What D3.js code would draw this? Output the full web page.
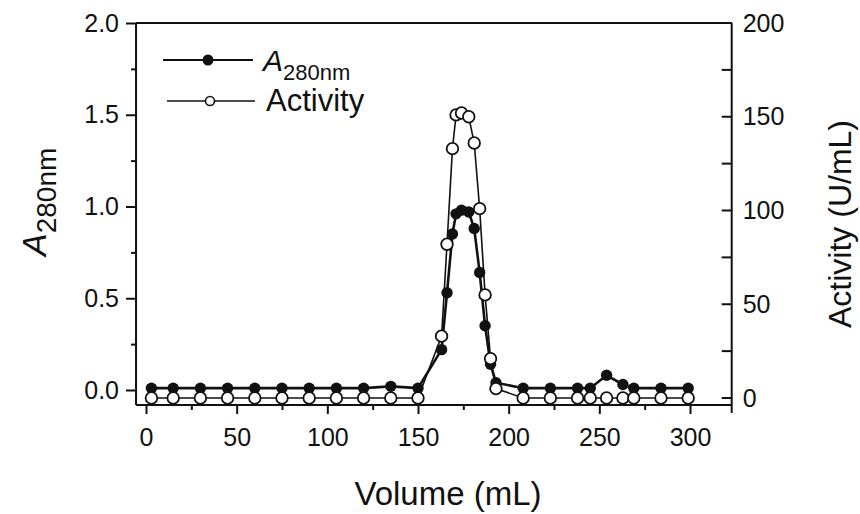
<!DOCTYPE html>
<html>
<head>
<meta charset="utf-8">
<script src="https://cdn.jsdelivr.net/npm/d3@7/dist/d3.min.js"></script>
<style>
  html, body { margin: 0; padding: 0; background: #fff; }
  svg { display: block; }
  text { font-family: "Liberation Sans", Arial, sans-serif; fill: #111; }
</style>
</head>
<body>
<svg id="chart" width="860" height="514"></svg>
<script>
// Elution volume of each collected fraction (mL)
const volume = [3, 15, 30, 45, 60, 75, 90, 105, 120, 135, 150,
                163, 166, 169, 171, 174, 178, 181, 184, 187, 190, 193,
                208, 223, 238, 245, 254, 263, 269, 284, 299];
// Absorbance at 280 nm
const a280 = [0.01, 0.01, 0.01, 0.01, 0.01, 0.01, 0.01, 0.01, 0.01, 0.02, 0.01,
              0.22, 0.53, 0.85, 0.96, 0.98, 0.97, 0.88, 0.64, 0.35, 0.14, 0.04,
              0.01, 0.01, 0.01, 0.01, 0.08, 0.03, 0.01, 0.01, 0.01];
// Enzyme activity (U/mL)
const activity = [0, 0, 0, 0, 0, 0, 0, 0, 0, 0, 0,
                  33, 82, 133, 151, 152, 150, 136, 101, 55, 21, 5,
                  0, 0, 0, 0, 0, 0, 0, 0, 0];

const xTicks = [0, 50, 100, 150, 200, 250, 300];
const leftTicks = [0.0, 0.5, 1.0, 1.5, 2.0];
const rightTicks = [0, 50, 100, 150, 200];

const svg = d3.select("#chart");
const ink = "#111";
const fontFamily = '"Liberation Sans", Arial, sans-serif';

const x = d3.scaleLinear().domain([0, 300]).range([146, 690]);
const yL = d3.scaleLinear().domain([0, 2]).range([390, 23]);
const yR = d3.scaleLinear().domain([0, 200]).range([398, 23]);

const plotLeft = x(-5.5), plotRight = x(323), plotTop = 23, plotBottom = 405;

// Frame
const frame = svg.append("g").attr("stroke", ink).attr("stroke-width", 2).attr("fill", "none");
frame.append("line").attr("x1", plotLeft).attr("x2", plotRight).attr("y1", plotTop).attr("y2", plotTop);
frame.append("line").attr("x1", plotLeft).attr("x2", plotRight).attr("y1", plotBottom).attr("y2", plotBottom);
frame.append("line").attr("x1", plotLeft).attr("x2", plotLeft).attr("y1", plotTop).attr("y2", plotBottom);
frame.append("line").attr("x1", plotRight).attr("x2", plotRight).attr("y1", plotTop).attr("y2", plotBottom + 8);

// Bottom axis
const xAxis = d3.axisBottom(x).tickValues(xTicks).tickSize(9).tickPadding(14).tickFormat(d3.format("d"));
const gx = svg.append("g").attr("transform", `translate(0,${plotBottom})`).call(xAxis);
gx.select(".domain").remove();
gx.selectAll(".tick line").attr("stroke", ink).attr("stroke-width", 2);
gx.selectAll(".tick text").attr("font-size", 25).attr("fill", ink).style("font-family", fontFamily);
const xMinor = d3.axisBottom(x).tickValues(d3.range(25, 300, 50)).tickSize(5).tickFormat("");
const gxm = svg.append("g").attr("transform", `translate(0,${plotBottom})`).call(xMinor);
gxm.select(".domain").remove();
gxm.selectAll(".tick line").attr("stroke", ink).attr("stroke-width", 2);

// Left axis
const lAxis = d3.axisLeft(yL).tickValues(leftTicks).tickSize(10).tickPadding(7).tickFormat(d3.format(".1f"));
const gl = svg.append("g").attr("transform", `translate(${plotLeft},0)`).call(lAxis);
gl.select(".domain").remove();
gl.selectAll(".tick line").attr("stroke", ink).attr("stroke-width", 2);
gl.selectAll(".tick text").attr("font-size", 25).attr("fill", ink).style("font-family", fontFamily);
const lMinor = d3.axisLeft(yL).tickValues([0.25, 0.75, 1.25, 1.75]).tickSize(5).tickFormat("");
const glm = svg.append("g").attr("transform", `translate(${plotLeft},0)`).call(lMinor);
glm.select(".domain").remove();
glm.selectAll(".tick line").attr("stroke", ink).attr("stroke-width", 2);

// Right axis: ticks point inward, labels outside
const rAxis = d3.axisRight(yR).tickValues(rightTicks).tickSize(0).tickPadding(11).tickFormat(d3.format("d"));
const gr = svg.append("g").attr("transform", `translate(${plotRight},0)`).call(rAxis);
gr.select(".domain").remove();
gr.selectAll(".tick text").attr("font-size", 25).attr("fill", ink).style("font-family", fontFamily);
svg.append("g").selectAll("line")
  .data(d3.range(0, 201, 25))
  .join("line")
  .attr("x1", plotRight - 10).attr("x2", plotRight)
  .attr("y1", d => yR(d)).attr("y2", d => yR(d))
  .attr("stroke", ink).attr("stroke-width", 2);

// Series
const pts = volume.map((v, i) => ({ v, a: a280[i], act: activity[i] }));

svg.append("path").datum(pts)
  .attr("fill", "none").attr("stroke", ink).attr("stroke-width", 2.6)
  .attr("d", d3.line().x(d => x(d.v)).y(d => yL(d.a)));
svg.append("g").selectAll("circle").data(pts).join("circle")
  .attr("cx", d => x(d.v)).attr("cy", d => yL(d.a)).attr("r", 5.7)
  .attr("fill", ink);

svg.append("path").datum(pts)
  .attr("fill", "none").attr("stroke", ink).attr("stroke-width", 1.6)
  .attr("d", d3.line().x(d => x(d.v)).y(d => yR(d.act)));
svg.append("g").selectAll("circle").data(pts).join("circle")
  .attr("cx", d => x(d.v)).attr("cy", d => yR(d.act)).attr("r", 5.8)
  .attr("fill", "#fff").attr("stroke", ink).attr("stroke-width", 1.8);

// Legend
const lg = svg.append("g");
lg.append("line").attr("x1", 163).attr("x2", 253).attr("y1", 60).attr("y2", 60)
  .attr("stroke", ink).attr("stroke-width", 2);
lg.append("circle").attr("cx", 208).attr("cy", 60).attr("r", 5.5).attr("fill", ink);
const lt1 = lg.append("text").attr("x", 263).attr("y", 71).attr("font-size", 30);
lt1.append("tspan").attr("font-style", "italic").text("A");
lt1.append("tspan").attr("font-size", 22).attr("dy", 9).text("280nm");

lg.append("line").attr("x1", 167).attr("x2", 255).attr("y1", 101).attr("y2", 101)
  .attr("stroke", ink).attr("stroke-width", 1.6);
lg.append("circle").attr("cx", 210).attr("cy", 101).attr("r", 4.5)
  .attr("fill", "#fff").attr("stroke", ink).attr("stroke-width", 1.6);
lg.append("text").attr("x", 266).attr("y", 111).attr("font-size", 31).text("Activity");

// Axis titles
svg.append("text").attr("x", 448).attr("y", 505).attr("text-anchor", "middle")
  .attr("font-size", 33).text("Volume (mL)");

const ylt = svg.append("text").attr("transform", "translate(46,256) rotate(-90)")
  .attr("text-anchor", "start").attr("font-size", 34);
ylt.append("tspan").attr("font-style", "italic").text("A");
ylt.append("tspan").attr("font-size", 28).attr("dy", 10).text("280nm");

svg.append("text").attr("transform", "translate(851,224) rotate(-90)")
  .attr("text-anchor", "middle").attr("font-size", 32).text("Activity (U/mL)");
</script>
</body>
</html>
